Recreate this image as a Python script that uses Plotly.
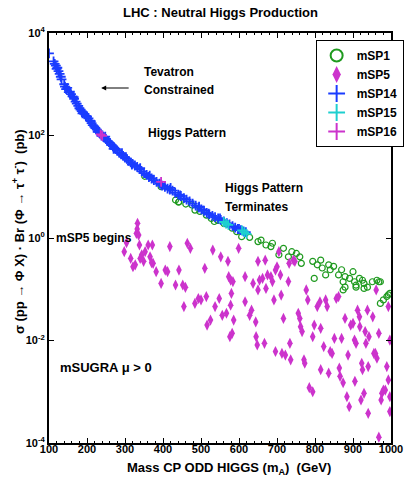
import plotly.graph_objects as go

# ---------------- data ----------------
# mSP14 (blue +)  : mass m_A [GeV], sigma*Br [pb]
msp14_m = [100, 112, 115, 118, 120, 122, 125, 128, 131, 133, 140, 142, 145, 148, 152, 155, 158,
           162, 165, 166, 170, 173, 177, 180, 183, 186, 188, 190, 193, 197, 200, 204, 208, 210,
           212, 215, 219, 222, 226, 228, 230, 234, 238, 242, 246, 248, 250, 255, 260, 263, 268,
           270, 272, 276, 280, 285, 290, 292, 295, 300, 305, 310, 315, 318, 320, 326, 332, 338,
           340, 344, 350, 357, 363, 365, 370, 376, 383, 391, 395, 398, 405, 412, 418, 420, 425,
           432, 440, 445, 447, 455, 462, 470, 478, 486, 494, 495, 501, 508, 515, 520, 522, 530,
           537, 545, 550, 552, 560, 568, 575, 583, 590, 597, 600, 605, 612, 618]
msp14_y = [4000, 2800, 2500, 2300, 2000, 2100, 1800, 1600, 1400, 1250, 1000, 900, 800, 850, 700,
           720, 640, 580, 560, 520, 460, 420, 380, 340, 320, 300, 270, 280, 265, 240, 235, 215,
           195, 190, 175, 160, 150, 140, 130, 118, 120, 110, 100, 95, 90, 95, 85, 78, 72, 66, 62,
           55, 57, 54, 50, 46, 43, 45, 40, 37, 35, 32, 30, 27, 28, 26, 24.5, 22, 23, 20, 18.5,
           17, 15.5, 16.5, 14.5, 13.5, 12.5, 11.5, 11, 10.5, 10, 9.2, 8.8, 9.5, 8.4, 7.6, 7.0,
           6.8, 6.6, 6.0, 5.6, 5.2, 4.7, 4.3, 3.9, 4.1, 3.6, 3.4, 3.1, 3.0, 2.9, 2.7, 2.55, 2.4,
           2.4, 2.25, 2.1, 1.95, 1.85, 1.7, 1.6, 1.5, 1.5, 1.42, 1.35, 1.3]

# mSP15 (cyan +)
msp15_m = [560, 566, 572, 608, 614, 620]
msp15_y = [2.05, 1.9, 1.8, 1.4, 1.3, 1.2]

# mSP16 (magenta +)
msp16_m = [236, 240, 395]
msp16_y = [105, 98, 12.5]

# mSP1 (green open circles)
msp1_m = [352, 395, 433, 441, 442, 460, 476, 484, 497, 514, 527, 535, 544, 561, 582, 594, 607,
          628, 650, 658, 671, 684, 688, 705, 717, 730, 739, 751, 760, 764, 794, 798, 806, 815,
          819, 828, 836, 840, 849, 862, 870, 874, 874, 879, 879, 891, 900, 904, 908, 908, 917,
          925, 929, 929, 938, 951, 963, 968, 972, 972, 980, 989, 993, 997]
msp1_y = [16, 10, 5.5, 5.0, 5.1, 4.6, 4.4, 3.5, 3.3, 2.8, 2.4, 2.1, 2.2, 1.9, 1.55, 1.33, 1.06,
          1.03, 0.85, 0.91, 0.73, 0.68, 0.79, 0.47, 0.63, 0.43, 0.54, 0.50, 0.43, 0.32, 0.35,
          0.163, 0.30, 0.37, 0.26, 0.19, 0.30, 0.24, 0.28, 0.19, 0.24, 0.14, 0.097, 0.11, 0.176,
          0.163, 0.22, 0.14, 0.11, 0.12, 0.163, 0.15, 0.13, 0.104, 0.11, 0.14, 0.15, 0.14, 0.14,
          0.053, 0.062, 0.072, 0.078, 0.083]

# mSP5 (magenta diamonds)
msp5_m = [333, 332, 330, 336, 304, 298, 315, 321, 327, 338, 344, 349, 340, 353, 361, 372, 366,
          374, 370, 382, 395, 406, 412, 418, 433, 442, 452, 455, 459, 464, 472, 484, 493, 500,
          514, 516, 525, 531, 510, 537, 548, 552, 556, 567, 571, 573, 578, 580, 578, 576, 582,
          586, 584, 599, 616, 616, 628, 633, 637, 644, 645, 648, 650, 650, 654, 662, 667, 669,
          671, 675, 684, 688, 692, 696, 696, 700, 705, 709, 711, 713, 717, 722, 730, 732, 734,
          736, 743, 747, 756, 760, 762, 766, 771, 773, 777, 781, 785, 794, 794, 798, 806, 813,
          815, 815, 823, 828, 832, 836, 840, 845, 851, 856, 862, 864, 866, 870, 874, 879, 884,
          887, 890, 894, 900, 904, 905, 908, 912, 917, 918, 921, 923, 925, 929, 932, 934, 938,
          942, 940, 940, 952, 955, 959, 961, 963, 968, 968, 974, 976, 980, 985, 993, 997, 997,
          993, 997, 989]
msp5_y = [1.93, 1.5, 1.23, 1.14, 0.81, 0.54, 0.40, 0.275, 0.30, 0.73, 0.47, 0.35, 0.40, 0.54,
          0.73, 0.73, 0.43, 0.32, 0.33, 0.22, 0.13, 0.237, 0.22, 0.68, 0.121, 0.237, 0.121,
          0.046, 0.109, 0.79, 0.63, 0.053, 0.066, 0.062, 0.072, 0.020, 0.025, 0.58, 0.256,
          0.046, 0.066, 0.43, 0.031, 0.034, 0.35, 0.176, 0.151, 0.083, 0.049, 0.0119, 0.0138,
          0.025, 0.141, 0.63, 0.176, 0.057, 0.031, 0.039, 0.130, 0.023, 0.0119, 0.0082, 0.35,
          0.097, 0.151, 0.163, 0.0088, 0.37, 0.104, 0.19, 0.176, 0.141, 0.062, 0.0061, 0.237,
          0.275, 0.54, 0.19, 0.077, 0.0056, 0.027, 0.0052, 0.141, 0.32, 0.0088, 0.0042, 0.37,
          0.35, 0.034, 0.027, 0.0186, 0.0149, 0.0042, 0.0036, 0.097, 0.062, 0.0012, 0.0010,
          0.0119, 0.020, 0.046, 0.057, 0.0173, 0.0027, 0.0076, 0.062, 0.046, 0.0023, 0.0061,
          0.0056, 0.0110, 0.066, 0.072, 0.0029, 0.0020, 0.0110, 0.0015, 0.027, 0.0008, 0.0052,
          0.00051, 0.020, 0.0216, 0.0102, 0.0016, 0.0088, 0.039, 0.029, 0.0186, 0.00069, 0.0036,
          0.0027, 0.00093, 0.0149, 0.0088, 0.039, 0.0119, 0.0031, 0.00038, 0.029, 0.0056,
          0.0056, 0.097, 0.0045, 0.0138, 0.00013, 0.00069, 0.00093, 0.00108, 0.00108, 0.0017,
          0.0008, 0.00041, 0.046, 0.0102, 0.0031]

x_ticks = [100, 200, 300, 400, 500, 600, 700, 800, 900, 1000]
y_tickvals = [1e-4, 1e-2, 1, 1e2, 1e4]
y_ticktext = ["10<sup>-4</sup>", "10<sup>-2</sup>", "10<sup>0</sup>", "10<sup>2</sup>", "10<sup>4</sup>"]

# ---------------- styling ----------------
FONT = "Liberation Sans Narrow, Liberation Sans, Arial, sans-serif"
GREEN = "#1f9a1f"
MAGENTA = "#cc33cc"
BLUE = "#1a3cff"
CYAN = "#1ecfcf"

W, H = 416, 487
L, R, T, B = 49, 13, 33, 44
PW, PH = W - L - R, H - T - B


def px2paper(px, py):
    return (px - L) / PW, (H - B - py) / PH


fig = go.Figure()
fig.add_trace(go.Scatter(x=msp1_m, y=msp1_y, mode="markers", name="mSP1",
                         marker=dict(symbol="circle-open", size=6, color=GREEN,
                                     line=dict(width=1.2, color=GREEN))))
fig.add_trace(go.Scatter(x=msp5_m, y=msp5_y, mode="markers", name="mSP5",
                         marker=dict(symbol="diamond-tall", size=8, color=MAGENTA,
                                     line=dict(width=0))))
fig.add_trace(go.Scatter(x=msp14_m, y=msp14_y, mode="markers", name="mSP14",
                         marker=dict(symbol="cross-thin-open", size=7, color=BLUE,
                                     line=dict(width=1.8, color=BLUE))))
fig.add_trace(go.Scatter(x=msp15_m, y=msp15_y, mode="markers", name="mSP15",
                         marker=dict(symbol="cross-thin-open", size=7, color=CYAN,
                                     line=dict(width=1.8, color=CYAN))))
fig.add_trace(go.Scatter(x=msp16_m, y=msp16_y, mode="markers", name="mSP16",
                         marker=dict(symbol="cross-thin-open", size=7, color=MAGENTA,
                                     line=dict(width=1.8, color=MAGENTA))))

axis_common = dict(showline=True, linecolor="black", linewidth=2, mirror="ticks",
                   ticks="inside", tickcolor="black", ticklen=5, tickwidth=1,
                   showgrid=False, zeroline=False, automargin=False,
                   tickfont=dict(family=FONT, size=11, color="black", weight="bold"))

fig.update_xaxes(range=[100, 1000], tickvals=x_ticks, ticklabelstandoff=-5,
                 minor=dict(dtick=20, ticks="inside", ticklen=2, tickcolor="black", showgrid=False),
                 **axis_common)
fig.update_yaxes(type="log", range=[-4, 4], tickvals=y_tickvals, ticktext=y_ticktext,
                 **axis_common)

ann = []


def text(s, px, py, size=12, xanchor="left", angle=0):
    x, y = px2paper(px, py)
    ann.append(dict(text=s, x=x, y=y, xref="paper", yref="paper", showarrow=False,
                    xanchor=xanchor, yanchor="middle", textangle=angle,
                    font=dict(family=FONT, size=size, color="black", weight="bold")))


text("Tevatron", 145, 72)
text("Constrained", 145, 90)
text("Higgs Pattern", 149, 133)
text("Higgs Pattern", 229, 188)
text("Terminates", 229, 207)
text("mSP5 begins", 54, 238)
text("mSUGRA \u03bc > 0", 58, 367, size=13)
text("LHC : Neutral Higgs Production", 226, 13, size=13, xanchor="center")
text("Mass CP ODD HIGGS (m<sub>A</sub>)  (GeV)", 235, 468, size=13, xanchor="center")
text("\u03c3 (pp \u2192 \u03a6 X) \u00b7 Br (\u03a6 \u2192 \u03c4<sup>+</sup> \u03c4<sup>-</sup>)  (pb)",
     17, 232, size=13, xanchor="center", angle=-90)

ax_, ay_ = px2paper(103, 88)
ann.append(dict(x=ax_, y=ay_, xref="paper", yref="paper", text="", showarrow=True,
                ax=29, ay=0, arrowhead=2, arrowsize=1, arrowwidth=1, arrowcolor="black"))

lx, ly = px2paper(325, 40)
fig.update_layout(
    width=W, height=H,
    margin=dict(l=L, r=R, t=T, b=B, pad=0),
    paper_bgcolor="white", plot_bgcolor="white",
    annotations=ann,
    showlegend=True,
    legend=dict(x=lx, y=ly, xanchor="left", yanchor="top",
                bgcolor="white", bordercolor="black", borderwidth=1,
                font=dict(family=FONT, size=12, color="black", weight="bold"),
                itemsizing="constant", tracegroupgap=0),
)

fig.write_html("out.html", config={"responsive": False, "displayModeBar": False})

# remove the browser's default page margin so the figure sits at (0, 0)
with open("out.html", "r", encoding="utf-8") as f:
    html = f.read()
html = html.replace("<head>", "<head><style>html,body{margin:0;padding:0;overflow:hidden;}</style>", 1)
with open("out.html", "w", encoding="utf-8") as f:
    f.write(html)
